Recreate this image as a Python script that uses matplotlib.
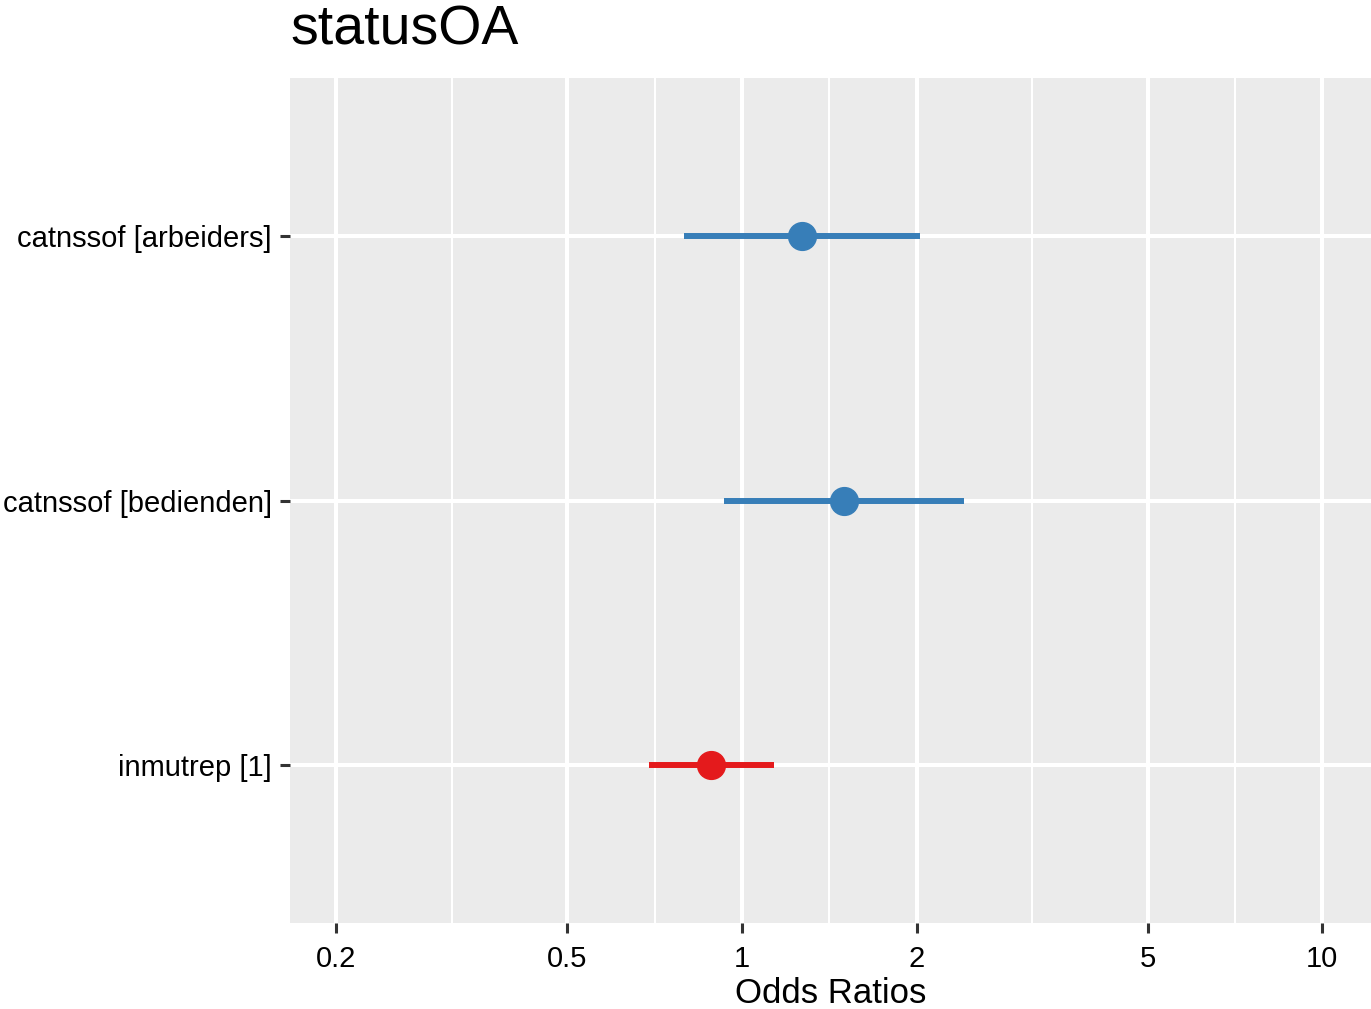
import numpy as np
import matplotlib
matplotlib.use("Agg")
import matplotlib.pyplot as plt
from matplotlib.ticker import FixedLocator, NullFormatter

plt.rcParams['font.family'] = ['Liberation Sans', 'DejaVu Sans']

# data
terms = ["catnssof [arbeiders]", "catnssof [bedienden]", "inmutrep [1]"]
estimate = [1.27, 1.50, 0.884]
conf_low = [0.794, 0.931, 0.691]
conf_high = [2.03, 2.41, 1.135]
colors = ["#377EB8", "#377EB8", "#E41A1C"]

major_ticks = [0.2, 0.5, 1, 2, 5, 10]
major_labels = ["0.2", "0.5", "1", "2", "5", "10"]

fig = plt.figure(figsize=(13.71, 10.09), dpi=100)
ax = fig.add_axes([290 / 1371, 1 - 923 / 1009, 1 - 290 / 1371, (923 - 78) / 1009])
ax.set_facecolor("#EBEBEB")

ax.set_xscale("log")
ax.set_xlim(10 ** (-0.779), 10 ** 1.084)
ax.set_ylim(3.6, 0.4)

# major + minor (midpoints in log space) grid
major_log = np.log10(major_ticks)
minor = 10 ** ((major_log[:-1] + major_log[1:]) / 2)
ax.xaxis.set_major_locator(FixedLocator(major_ticks))
ax.xaxis.set_minor_locator(FixedLocator(minor))
ax.xaxis.set_minor_formatter(NullFormatter())
ax.set_xticklabels(major_labels)
ax.set_yticks(range(1, len(terms) + 1))
ax.set_yticklabels(terms)

ax.grid(True, which="major", color="white", linewidth=2.9)
ax.grid(True, which="minor", axis="x", color="white", linewidth=1.45)
ax.set_axisbelow(True)
for s in ax.spines.values():
    s.set_visible(False)

ax.tick_params(axis="both", which="major", length=7, width=2.2, color="#333333",
               labelsize=21, labelcolor="black")
ax.tick_params(axis="y", pad=6)
ax.tick_params(axis="x", pad=9)
ax.tick_params(axis="x", which="minor", length=0)

for i, t in enumerate(terms):
    y = i + 1
    ax.plot([conf_low[i], conf_high[i]], [y, y], color=colors[i], linewidth=4.3,
            solid_capstyle="butt", zorder=3)
    ax.plot(estimate[i], y, "o", color=colors[i], markersize=20, zorder=4)

ax.set_xlabel("Odds Ratios", fontsize=25, labelpad=3)
ax.set_title("statusOA", loc="left", fontsize=40, pad=24)

fig.savefig("out.png", dpi=100)
